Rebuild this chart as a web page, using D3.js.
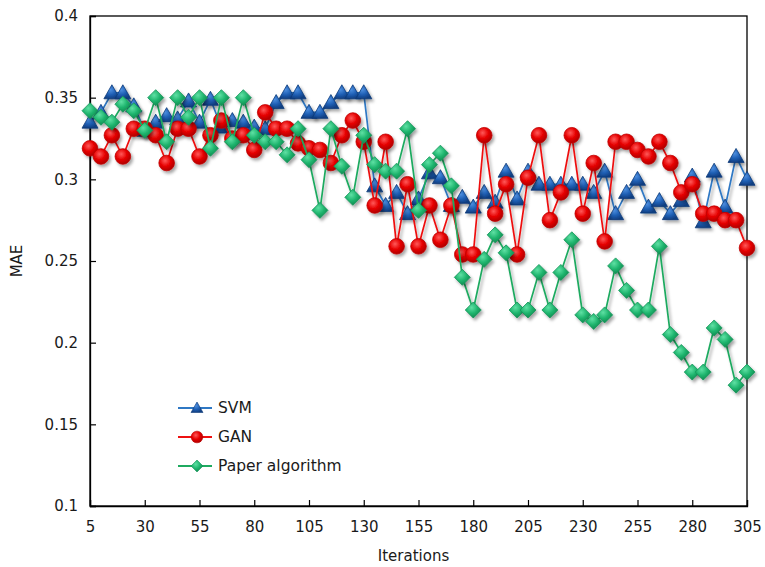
<!DOCTYPE html>
<html>
<head>
<meta charset="utf-8">
<script src="https://cdn.jsdelivr.net/npm/d3@7"></script>
<style>
  body { margin: 0; background: #fff; }
  svg text { font-family: "DejaVu Sans", Verdana, sans-serif; fill: #1a1a1a; }
</style>
</head>
<body>
<svg id="chart" width="765" height="567"></svg>
<script>
// iterations 5..305, step 5
var iterations = [5,10,15,20,25,30,35,40,45,50,55,60,65,70,75,80,85,90,95,100,
  105,110,115,120,125,130,135,140,145,150,155,160,165,170,175,180,185,190,195,200,
  205,210,215,220,225,230,235,240,245,250,255,260,265,270,275,280,285,290,295,300,305];

var svmValues = [0.335,0.341,0.353,0.353,0.345,0.330,0.335,0.339,0.337,0.348,
  0.335,0.349,0.332,0.336,0.335,0.332,0.331,0.347,0.353,0.353,
  0.341,0.341,0.347,0.353,0.353,0.353,0.296,0.284,0.292,0.279,
  0.288,0.304,0.301,0.284,0.289,0.283,0.292,0.286,0.305,0.288,
  0.305,0.297,0.297,0.297,0.297,0.297,0.292,0.305,0.279,0.292,
  0.300,0.283,0.287,0.279,0.287,0.302,0.274,0.305,0.283,0.314,0.300];

var ganValues = [0.319,0.314,0.327,0.314,0.331,0.331,0.327,0.310,0.331,0.331,
  0.314,0.327,0.336,0.325,0.327,0.318,0.341,0.331,0.331,0.322,
  0.319,0.318,0.310,0.327,0.336,0.323,0.284,0.323,0.259,0.297,
  0.259,0.284,0.263,0.284,0.254,0.254,0.327,0.279,0.297,0.254,
  0.301,0.327,0.275,0.292,0.327,0.279,0.310,0.262,0.323,0.323,
  0.318,0.314,0.323,0.310,0.292,0.297,0.279,0.279,0.275,0.275,0.258];

var paperValues = [0.342,0.338,0.335,0.346,0.342,0.330,0.350,0.323,0.350,0.338,
  0.350,0.319,0.350,0.323,0.350,0.327,0.323,0.323,0.315,0.331,
  0.312,0.281,0.331,0.308,0.289,0.327,0.309,0.305,0.305,0.331,
  0.281,0.309,0.316,0.296,0.240,0.220,0.251,0.266,0.255,0.220,
  0.220,0.243,0.220,0.243,0.263,0.217,0.213,0.217,0.247,0.232,
  0.220,0.220,0.259,0.205,0.194,0.182,0.182,0.209,0.202,0.174,0.182];

var xTicks = [5,30,55,80,105,130,155,180,205,230,255,280,305];
var yTicks = [0.1,0.15,0.2,0.25,0.3,0.35,0.4];
var seriesNames = ["SVM", "GAN", "Paper algorithm"];

var svg = d3.select("#chart");
var plotLeft = 90, plotRight = 747, plotTop = 16, plotBottom = 506;

var x = d3.scaleLinear().domain([5, 305]).range([plotLeft, plotRight]);
var y = d3.scaleLinear().domain([0.1, 0.4]).range([plotBottom, plotTop]);

// defs: shadow + gradients
var defs = svg.append("defs");
var f = defs.append("filter").attr("id", "shadow")
  .attr("x", "-50%").attr("y", "-50%").attr("width", "200%").attr("height", "200%");
f.append("feDropShadow").attr("dx", 2).attr("dy", 2.5)
  .attr("stdDeviation", 1.6).attr("flood-color", "#000").attr("flood-opacity", 0.35);

function radial(id, stops) {
  var g = defs.append("radialGradient").attr("id", id)
    .attr("cx", "40%").attr("cy", "35%").attr("r", "65%");
  stops.forEach(function(s) {
    g.append("stop").attr("offset", s[0]).attr("stop-color", s[1]);
  });
}
radial("gRed", [["0%", "#ff5a5a"], ["55%", "#e60000"], ["100%", "#b00000"]]);
radial("gBlue", [["0%", "#4d8fe0"], ["55%", "#1f5fb4"], ["100%", "#113f82"]]);
radial("gGreen", [["0%", "#5fe0a4"], ["55%", "#1fb56e"], ["100%", "#118a50"]]);

// frame
svg.append("rect")
  .attr("x", plotLeft).attr("y", plotTop)
  .attr("width", plotRight - plotLeft).attr("height", plotBottom - plotTop)
  .attr("fill", "none").attr("stroke", "#000").attr("stroke-width", 1.3);

// axes
var yAxis = d3.axisLeft(y).tickValues(yTicks).tickSize(-6).tickPadding(12)
  .tickFormat(function(d) { return String(+d.toFixed(2)); });
var gy = svg.append("g").attr("transform", "translate(" + plotLeft + ",0)").call(yAxis);

var xAxis = d3.axisBottom(x).tickValues(xTicks).tickSize(-6).tickPadding(15);
var gx = svg.append("g").attr("transform", "translate(0," + plotBottom + ")").call(xAxis);

[gy, gx].forEach(function(g) {
  g.select(".domain").attr("stroke", "#000").attr("stroke-width", 1.3);
  g.selectAll(".tick line").attr("stroke", "#000").attr("stroke-width", 1.2);
  g.selectAll(".tick text").style("font-size", "15px")
    .style("font-family", "'DejaVu Sans', Verdana, sans-serif").attr("fill", "#1a1a1a");
});

svg.append("text")
  .attr("x", (plotLeft + plotRight) / 2 - 5).attr("y", 561)
  .attr("text-anchor", "middle").style("font-size", "15px")
  .text("Iterations");

svg.append("text")
  .attr("transform", "translate(22," + (plotTop + plotBottom) / 2 + ") rotate(-90)")
  .attr("text-anchor", "middle").style("font-size", "15px")
  .text("MAE");

// markers
var triPath = "M0,-8L8,6L-8,6Z";
var diaPath = "M0,-8L8,0L0,8L-8,0Z";

var series = [
  { name: seriesNames[0], values: svmValues, line: "#2f78c4", fill: "url(#gBlue)", stroke: "#0d3a78", shape: "tri" },
  { name: seriesNames[1], values: ganValues, line: "#ee1111", fill: "url(#gRed)", stroke: "#c00000", shape: "circle" },
  { name: seriesNames[2], values: paperValues, line: "#1faa60", fill: "url(#gGreen)", stroke: "#15955a", shape: "dia" }
];

function drawMarker(sel, s) {
  if (s.shape == "circle") {
    sel.append("circle").attr("r", 7.8);
  } else {
    sel.append("path").attr("d", s.shape == "tri" ? triPath : diaPath);
  }
  sel.selectAll("circle, path")
    .attr("fill", s.fill).attr("stroke", s.stroke).attr("stroke-width", 0.8);
}

var line = d3.line()
  .x(function(d, i) { return x(iterations[i]); })
  .y(function(d) { return y(d); });

series.forEach(function(s) {
  var g = svg.append("g");
  g.append("path")
    .datum(s.values)
    .attr("d", line)
    .attr("fill", "none")
    .attr("stroke", s.line)
    .attr("stroke-width", 1.7)
    .attr("filter", "url(#shadow)");

  g.selectAll("g.m")
    .data(s.values)
    .enter().append("g")
    .attr("class", "m")
    .attr("filter", "url(#shadow)")
    .attr("transform", function(d, i) { return "translate(" + x(iterations[i]) + "," + y(d) + ")"; })
    .each(function() { drawMarker(d3.select(this), s); });
});

// legend
var legend = svg.append("g").attr("transform", "translate(178,408)");
series.forEach(function(s, i) {
  var row = legend.append("g").attr("transform", "translate(0," + (i * 29) + ")");
  row.append("line")
    .attr("x1", 0).attr("x2", 34).attr("y1", 0).attr("y2", 0)
    .attr("stroke", s.line).attr("stroke-width", 1.8);
  var m = row.append("g").attr("transform", "translate(19,0) scale(0.75)");
  drawMarker(m, s);
  row.append("text")
    .attr("x", 40).attr("y", 0).attr("dy", "0.35em")
    .style("font-size", "15.5px")
    .text(s.name);
});
</script>
</body>
</html>
